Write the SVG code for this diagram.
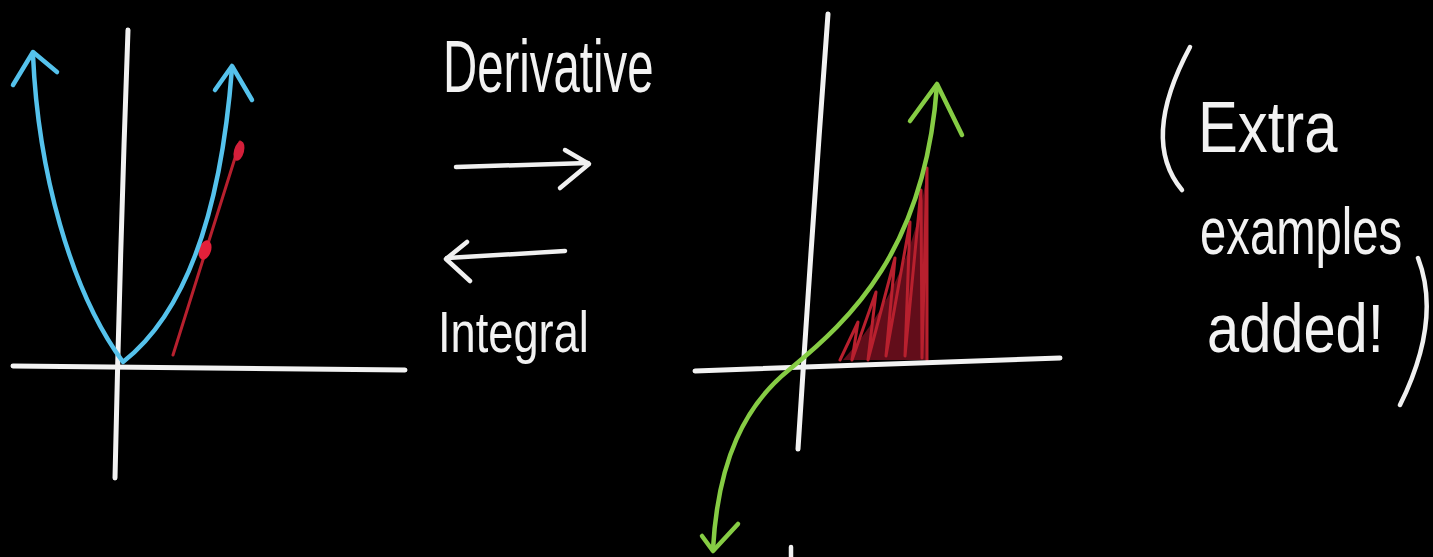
<svg xmlns="http://www.w3.org/2000/svg" width="1433" height="557" viewBox="0 0 1433 557">
<style>
.ax{fill:none;stroke:#f2f2f2;stroke-width:5;stroke-linecap:round;stroke-linejoin:round}
.wl{fill:none;stroke:#f0f0f0;stroke-width:4.5;stroke-linecap:round;stroke-linejoin:round}
.bl{fill:none;stroke:#55c2ec;stroke-width:4.5;stroke-linecap:round;stroke-linejoin:round}
.gr{fill:none;stroke:#86cc44;stroke-width:4.5;stroke-linecap:round;stroke-linejoin:round}
.rd{fill:none;stroke:#b8202e;stroke-width:3;stroke-linecap:round;stroke-linejoin:round}
.hw{fill:#f2f2f2;font-family:"Liberation Sans",Arial,sans-serif}
</style>
<rect x="0" y="0" width="1433" height="557" fill="#000"/>
<g id="left-graph">
  <path class="ax" d="M128,30 Q120,250 115,478"/>
  <path class="ax" d="M13,366 L405,370"/>
  <path class="rd" d="M173,355 L240,142"/>
  <ellipse cx="205" cy="250" rx="6" ry="10" transform="rotate(18 205 250)" fill="#e4203a"/>
  <ellipse cx="239" cy="151" rx="5" ry="10" transform="rotate(15 239 151)" fill="#d41f3a"/>
  <path class="bl" d="M33,55 C38,170 70,290 123,362 Q215,290 232,68"/>
  <polyline class="bl" points="13,85 33,52 57,72"/>
  <polyline class="bl" points="215,90 232,66 252,100"/>
</g>
<g id="derivative">
  <text class="hw" transform="translate(443,92) scale(0.64,1)" font-size="74">Derivative</text>
  <path class="wl" d="M456,167 L588,163"/>
  <polyline class="wl" points="565,150 589,164 560,188"/>
</g>
<g id="integral">
  <path class="wl" d="M565,251 L447,258"/>
  <polyline class="wl" points="467,242 446,259 470,281"/>
  <text class="hw" transform="translate(438,352) scale(0.78,1)" font-size="58">Integral</text>
</g>
<g id="right-graph">
  <path fill="#7a1020" opacity="0.8" d="M843,360 C870,330 915,270 927,170 L927,360 Z"/>
  <polyline class="rd" points="840,360 858,322 852,360 876,292 868,360 895,258 886,356 910,222 905,356 921,190 922,358 927,168 927,360"/>
  <path class="ax" d="M828,14 Q812,230 798,449"/>
  <path class="ax" d="M695,371 L1060,358"/>
  <path class="gr" d="M713,549 C718,460 745,405 790,369 C850,320 925,250 937,85"/>
  <polyline class="gr" points="910,121 937,84 962,135"/>
  <polyline class="gr" points="702,536 713,551 738,524"/>
  <path class="wl" d="M791,547 L791,557"/>
</g>
<g id="note">
  <path class="wl" d="M1190,47 Q1140,140 1182,190"/>
  <text class="hw" transform="translate(1198,152) scale(0.83,1)" font-size="72">Extra</text>
  <text class="hw" transform="translate(1200,254) scale(0.716,1)" font-size="66">examples</text>
  <text class="hw" transform="translate(1207,352) scale(0.85,1)" font-size="68">added!</text>
  <path class="wl" d="M1418,258 Q1442,320 1400,405"/>
</g>
</svg>
